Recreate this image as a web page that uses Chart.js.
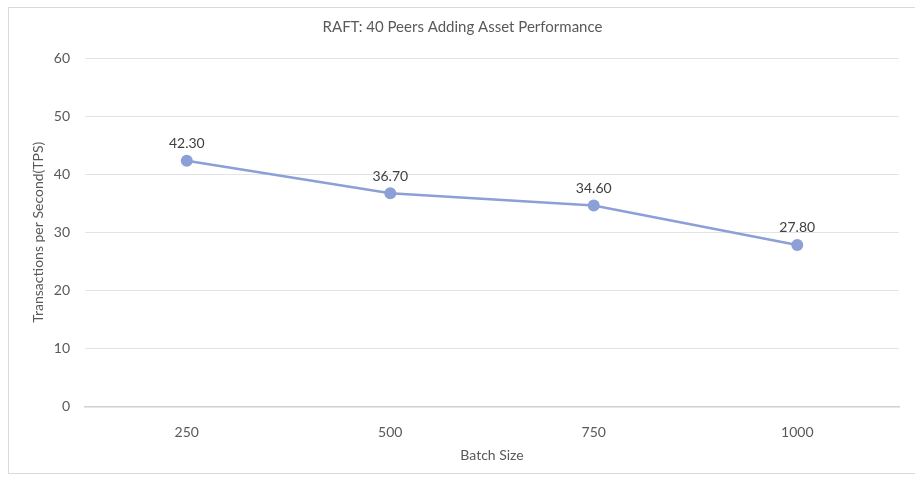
<!DOCTYPE html>
<html>
<head>
<meta charset="utf-8">
<script src="https://cdn.jsdelivr.net/npm/chart.js@4"></script>
<style>
html,body{margin:0;padding:0;background:#fff;}
#frame{position:absolute;left:8px;top:7px;width:915px;height:467px;border:1px solid #d9d9d9;box-sizing:border-box;}
#wrap{position:absolute;left:0;top:0;width:915px;height:482px;}
</style>
</head>
<body>
<div id="frame"></div>
<div id="wrap"><canvas id="cv" width="915" height="482"></canvas></div>
<script>
// data
var batchSizes=['250','500','750','1000'];
var tpsValues=[42.30,36.70,34.60,27.80];
var yTicks=[0,10,20,30,40,50,60];

var FONT="Lato, 'Open Sans', sans-serif";
var LINE='#8c9fd6';

// value labels above points (no datalabels plugin offline)
var pointLabels={id:'pointLabels',afterDatasetsDraw:function(chart){
  var ctx=chart.ctx;var meta=chart.getDatasetMeta(0);
  ctx.save();ctx.font='14px '+FONT;ctx.fillStyle='#404040';ctx.textAlign='center';ctx.textBaseline='bottom';
  meta.data.forEach(function(p,i){ctx.fillText(tpsValues[i].toFixed(2),p.x,p.y-10);});
  ctx.restore();
}};

new Chart(document.getElementById('cv'),{
  type:'line',
  data:{labels:batchSizes,datasets:[{
    data:tpsValues,borderColor:LINE,backgroundColor:LINE,borderWidth:2.5,
    pointRadius:6,pointHoverRadius:6,pointBorderWidth:0,tension:0
  }]},
  options:{responsive:false,animation:false,
    layout:{padding:{left:26,right:16,top:12,bottom:14}},
    plugins:{legend:{display:false},tooltip:{enabled:false},
      title:{display:true,text:'RAFT: 40 Peers Adding Asset Performance',color:'#595959',
        font:{family:FONT,size:15,weight:'normal'},padding:{top:6,bottom:22}}},
    scales:{
      x:{offset:true,grid:{display:false,drawTicks:false},border:{color:'#d0d0d0',width:1.5},
        ticks:{color:'#595959',font:{family:FONT,size:14},padding:18},
        title:{display:true,text:'Batch Size',color:'#595959',font:{family:FONT,size:14},padding:{top:-12}}},
      y:{min:0,max:60,afterBuildTicks:function(s){s.ticks=yTicks.map(function(v){return{value:v};});},
        grid:{color:'#e3e3e3',drawTicks:false},border:{display:false},
        ticks:{color:'#595959',font:{family:FONT,size:14},padding:15},
        title:{display:true,text:'Transactions per Second(TPS)',color:'#595959',font:{family:FONT,size:14},padding:{top:4,bottom:-8}}}
    }
  },
  plugins:[pointLabels]
});
</script>
</body>
</html>
